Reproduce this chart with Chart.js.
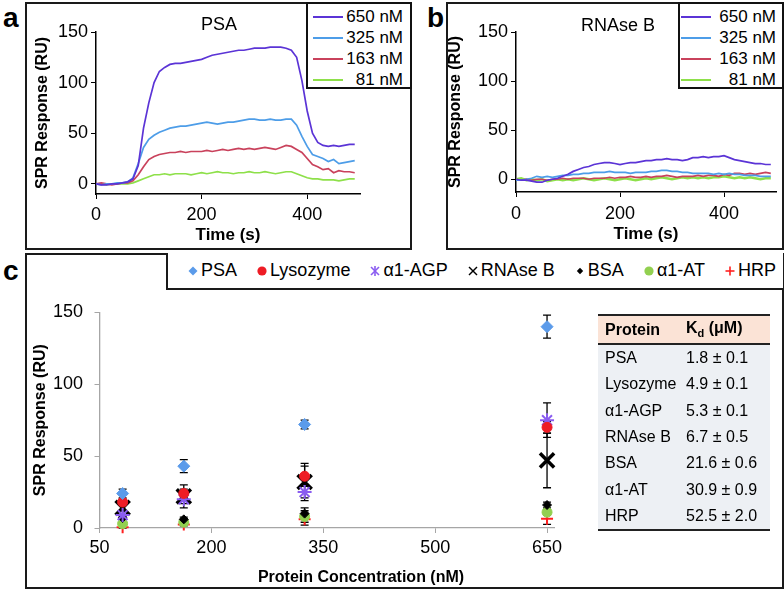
<!DOCTYPE html>
<html><head><meta charset="utf-8">
<script src="https://cdn.jsdelivr.net/npm/chart.js@4.4.1/dist/chart.umd.min.js"></script>
<style>
body{margin:0;background:#fff;}
#fig{position:relative;width:784px;height:591px;overflow:hidden;font-family:'Liberation Sans',Arial,sans-serif;color:#000;background:#fff;}
.box{position:absolute;border:2px solid #1a1a1a;box-sizing:border-box;}
.plabel{position:absolute;font-weight:bold;font-size:28px;line-height:28px;}
canvas{position:absolute;}
.ptitle{position:absolute;font-size:18px;line-height:18px;transform:translate(-50%,-50%);white-space:nowrap;}
.lgd{position:absolute;border:2px solid #111;background:#fff;box-sizing:border-box;font-size:17px;}
.lgd .row{display:flex;align-items:center;height:21px;}
.lgd .smp{width:30px;height:0;border-top:2px solid;}
.lgd .txt{flex:1;text-align:right;}
#lgdc{position:absolute;left:166px;top:253px;width:617px;height:37px;border-left:2px solid #1a1a1a;border-bottom:2px solid #1a1a1a;box-sizing:border-box;display:flex;align-items:center;padding-left:20px;gap:20px;font-size:18px;background:#fff;}
#lgdc .it{display:flex;align-items:center;gap:3px;white-space:nowrap;}
#xtitleC{position:absolute;left:361px;top:577px;transform:translate(-50%,-50%);font-weight:bold;font-size:16px;white-space:nowrap;}
#kd{position:absolute;left:598px;top:314px;width:172px;border-collapse:collapse;font-size:16px;}
#kd th{background:#fbe3d6;height:27px;text-align:left;font-weight:bold;border-top:2px solid #222;border-bottom:2px solid #222;padding:0;}
#kd td{background:#edf0f4;height:26.3px;padding:0;}
#kd .c1{padding-left:7px;width:81px;}
#kd tr:last-child td{border-bottom:2px solid #222;}
</style></head>
<body>
<div id="fig">
  <div class="box" style="left:25px;top:2px;width:387px;height:248px;"></div>
  <div class="box" style="left:446px;top:2px;width:338px;height:248px;"></div>
  <div class="box" style="left:25px;top:253px;width:759px;height:336px;"></div>
  <div class="plabel" style="left:3px;top:4px;">a</div>
  <div class="plabel" style="left:427px;top:4px;">b</div>
  <div class="plabel" style="left:3px;top:257px;">c</div>
  <canvas id="ca" width="381" height="242" style="left:27px;top:4px;"></canvas>
  <canvas id="cb" width="333" height="242" style="left:448px;top:4px;"></canvas>
  <canvas id="cc" width="754" height="296" style="left:27px;top:290px;"></canvas>
  <div class="ptitle" id="ta" style="left:219px;top:24px;"></div>
  <div class="ptitle" id="tb" style="left:618px;top:25px;"></div>
  <div class="lgd" id="lga" style="left:306px;top:2px;width:106px;height:87px;padding:2px 7px 0 5px;"></div>
  <div class="lgd" id="lgb" style="left:678px;top:2px;width:106px;height:87px;padding:2px 6px 0 1px;"></div>
  <div id="lgdc"></div>
  <div id="xtitleC"></div>
  <table id="kd"></table>
</div>
<script>
// ---------- Panels a & b: SPR sensorgrams ----------
const timeSec = [0,10,20,30,40,50,60,70,80,90,100,110,120,130,140,150,160,170,180,190,200,210,220,230,240,250,260,270,280,290,300,310,320,330,340,350,360,370,380,390,400,410,420,430,440,450,460,470,480,490];
const concLabels = ['650 nM','325 nM','163 nM','81 nM'];
const psa650 = [0,-1,-1,0,0,1,2,5,18,55,80,100,111,115,118,119,119,120,121,122,123,125,127,128,129,130,131,132,132,133,134,134,134,135,135,135,134,132,125,102,72,50,41,38,37,38,37,38,39,39];
const psa325 = [0,-1,0,0,1,1,2,6,20,36,44,48,51,53,55,56,57,57,58,59,60,61,60,59,60,61,61,62,63,64,64,63,63,64,63,63,64,64,58,47,37,29,27,25,22,24,20,21,22,23];
const psa163 = [0,1,0,-1,0,1,1,3,9,17,24,27,29,30,31,31,32,31,32,32,32,33,32,33,34,33,34,35,34,35,34,35,36,35,34,36,38,37,34,31,25,19,17,14,15,11,13,12,12,11];
const psa81  = [0,0,-1,0,0,0,0,1,3,5,7,9,9,10,9,10,10,10,9,10,11,10,11,12,11,11,10,11,11,12,11,11,12,11,10,11,12,12,10,8,6,5,5,4,4,4,3,4,5,5];
const rnb650 = [0,-1,-1,-2,-3,-3,-1,0,1,3,5,8,10,12,13,15,16,17,17,16,15,16,17,17,18,19,19,20,20,21,20,20,19,20,22,22,23,22,23,23,24,22,20,19,18,17,16,16,15,15];
const rnb325 = [-1,-1,0,1,3,2,3,2,3,4,4,5,5,6,6,7,7,7,8,7,7,7,6,7,7,7,8,8,9,9,8,8,7,7,6,6,6,6,5,6,5,6,5,5,4,4,4,3,3,3];
const rnb163 = [0,-1,0,-1,0,0,-1,0,0,1,0,1,1,1,0,1,1,1,2,1,2,2,3,2,2,3,2,3,3,4,3,2,3,3,3,4,3,4,4,3,5,4,6,6,5,6,5,6,7,6];
const rnb81  = [0,1,-1,0,-1,0,-2,-1,0,-1,0,-1,0,1,0,-1,0,1,0,-1,0,1,0,-1,0,1,0,1,2,1,0,1,2,1,2,1,2,1,2,2,3,2,1,2,1,2,1,0,1,1];
const timeTicks = [0,200,400];
const respTicks = [0,50,100,150];

// ---------- Panel c: response vs concentration ----------
const concNM = [81,163,325,650];
const proteinNames = ['PSA','Lysozyme','α1-AGP','RNAse B','BSA','α1-AT','HRP'];
const respPSA  = [24,43,72,140];
const respLys  = [18,24,36,70];
const respAGP  = [9,20,25,75];
const respRNB  = [14,22,32,47];
const respBSA  = [7,6,10,16];
const respAT   = [3,4,8,11];
const respHRP  = [0.5,2.5,6,6.5];
const errPSA = [3,4.5,3,8];
const errLys = [2,3,7,4];
const errAGP = [3,3,4,12];
const errRNB = [5,8,13,19];
const errBSA = [1,1.5,2,2];
const errAT  = [1,1,6,2];
const errHRP = [1,1,2,4];
const concTicks = [50,200,350,500,650];

// ---------- Table ----------
const kdProteins = ['PSA','Lysozyme','α1-AGP','RNAse B','BSA','α1-AT','HRP'];
const kdValues = ['1.8 ± 0.1','4.9 ± 0.1','5.3 ± 0.1','6.7 ± 0.5','21.6 ± 0.6','30.9 ± 0.9','52.5 ± 2.0'];

// ---------- styles ----------
const lineColors = ['#5b34d6','#4d9de8','#c9425c','#8ee04a'];
const FONT = "'Liberation Sans', Arial, sans-serif";
Chart.defaults.font.family = FONT;
Chart.defaults.color = '#000';

function sensorChart(id, title, series, yMin, opts){
  const ds = series.map((vals,k)=>({
    label: concLabels[k],
    data: timeSec.map((t,i)=>({x:t,y:vals[i]})),
    borderColor: lineColors[k],
    borderWidth: k===3 && opts.thickGreen ? 2.4 : 1.7,
    pointRadius: 0, tension: 0, fill:false
  }));
  new Chart(document.getElementById(id), {
    type:'line',
    data:{datasets:ds},
    options:{
      responsive:false, animation:false,
      layout:{padding:{top:28,right:opts.padRight,left:0,bottom:0}},
      plugins:{legend:{display:false},tooltip:{enabled:false}},
      scales:{
        x:{type:'linear',min:0,max:500,
          afterBuildTicks:s=>{s.ticks=timeTicks.map(v=>({value:v}));},
          afterFit:s=>{s.height=opts.xh;},
          grid:{drawOnChartArea:false,drawTicks:true,tickLength:5,color:'#000'},
          border:{display:true,color:'#000',width:1.5},
          ticks:{font:{size:18},padding:opts.xpad,maxRotation:0,autoSkip:false},
          title:{display:true,text:'Time (s)',font:{size:17,weight:'bold',lineHeight:1},padding:{top:0,bottom:opts.xtb}}
        },
        y:{min:yMin,max:150,
          afterBuildTicks:s=>{s.ticks=respTicks.map(v=>({value:v}));},
          afterFit:s=>{s.width=opts.yw;},
          grid:{drawOnChartArea:false,drawTicks:true,tickLength:5,color:'#000'},
          border:{display:true,color:'#000',width:1.5},
          ticks:{font:{size:18},padding:3,autoSkip:false},
          title:{display:true,text:'SPR Response (RU)',font:{size:16,weight:'bold',lineHeight:1},padding:{top:opts.ytp,bottom:0}}
        }
      }
    }
  });
  document.getElementById(opts.titleId).textContent = title;
  const lg = document.getElementById(opts.legendId);
  concLabels.forEach((lab,k)=>{
    const r = document.createElement('div'); r.className='row';
    r.innerHTML = '<div class="smp" style="border-color:'+lineColors[k]+'"></div><div class="txt">'+lab+'</div>';
    lg.appendChild(r);
  });
}
sensorChart('ca','PSA',[psa650,psa325,psa163,psa81],-10,
  {padRight:48,xh:52,xpad:5,xtb:2,yw:69,ytp:8,titleId:'ta',legendId:'lga'});
sensorChart('cb','RNAse B',[rnb650,rnb325,rnb163,rnb81],-13,
  {padRight:5,xh:54,xpad:6,xtb:3,yw:68,ytp:0,titleId:'tb',legendId:'lgb',thickGreen:true});

// ---------- panel c chart ----------
const respSeries = [respPSA,respLys,respAGP,respRNB,respBSA,respAT,respHRP];
const errSeries = [errPSA,errLys,errAGP,errRNB,errBSA,errAT,errHRP];
const markerStyles = [
  {pointStyle:'rectRot',radius:6,color:'#5b9bea',bw:1},
  {pointStyle:'circle',radius:5,color:'#ee1c25',bw:1},
  {pointStyle:'star',radius:7,color:'#8a5cf0',bw:2},
  {pointStyle:'crossRot',radius:10,color:'#000000',bw:3.5},
  {pointStyle:'rectRot',radius:4.5,color:'#000000',bw:1},
  {pointStyle:'circle',radius:5,color:'#92d050',bw:1},
  {pointStyle:'cross',radius:6,color:'#ff2020',bw:2}
];
const errorBars = {
  id:'errorBars',
  beforeDatasetsDraw(chart){
    const {ctx, scales:{x,y}} = chart;
    ctx.save(); ctx.strokeStyle='#000'; ctx.lineWidth=1.3;
    chart.data.datasets.forEach(ds=>{
      ds.data.forEach((p,i)=>{
        const e = ds.errors[i];
        const px = x.getPixelForValue(p.x);
        const t = y.getPixelForValue(p.y+e), b = y.getPixelForValue(Math.max(0,p.y-e));
        ctx.beginPath();
        ctx.moveTo(px,t); ctx.lineTo(px,b);
        ctx.moveTo(px-4,t); ctx.lineTo(px+4,t);
        ctx.moveTo(px-4,b); ctx.lineTo(px+4,b);
        ctx.stroke();
      });
    });
    ctx.restore();
  }
};
new Chart(document.getElementById('cc'), {
  type:'scatter',
  data:{datasets: respSeries.map((vals,k)=>({
    label: proteinNames[k],
    data: concNM.map((c,i)=>({x:c,y:vals[i]})),
    errors: errSeries[k],
    pointStyle: markerStyles[k].pointStyle,
    pointRadius: markerStyles[k].radius,
    backgroundColor: markerStyles[k].color,
    borderColor: markerStyles[k].color,
    borderWidth: markerStyles[k].bw,
    showLine:false, clip:false
  }))},
  options:{
    responsive:false, animation:false,
    layout:{padding:{top:7.5,right:226.5,left:0,bottom:0}},
    plugins:{legend:{display:false},tooltip:{enabled:false}},
    scales:{
      x:{type:'linear',min:50,max:660,
        afterBuildTicks:s=>{s.ticks=concTicks.map(v=>({value:v}));},
        afterFit:s=>{s.height=58;},
        grid:{drawOnChartArea:false,drawTicks:true,tickLength:5,color:'#a6a6a6'},
        border:{display:true,color:'#a6a6a6',width:1.3},
        ticks:{font:{size:18},padding:4,maxRotation:0,autoSkip:false}
      },
      y:{min:0,max:150,
        afterBuildTicks:s=>{s.ticks=respTicks.map(v=>({value:v}));},
        afterFit:s=>{s.width=72.5;},
        grid:{drawOnChartArea:false,drawTicks:true,tickLength:5,color:'#a6a6a6'},
        border:{display:true,color:'#a6a6a6',width:1.3},
        ticks:{font:{size:18},padding:11.5,autoSkip:false},
        title:{display:true,text:'SPR Response (RU)',font:{size:16,weight:'bold',lineHeight:1},padding:{top:6,bottom:0}}
      }
    }
  },
  plugins:[errorBars]
});
document.getElementById('xtitleC').textContent = 'Protein Concentration (nM)';

// legend c
const svgMarks = [
  '<polygon points="5,0.5 9.5,5 5,9.5 0.5,5" fill="#5b9bea"/>',
  '<circle cx="5" cy="5" r="4.6" fill="#ee1c25"/>',
  '<g stroke="#8a5cf0" stroke-width="1.6"><line x1="5" y1="0" x2="5" y2="10"/><line x1="1" y1="1" x2="9" y2="9"/><line x1="9" y1="1" x2="1" y2="9"/></g>',
  '<g stroke="#000" stroke-width="1.4"><line x1="1" y1="1" x2="9" y2="9"/><line x1="9" y1="1" x2="1" y2="9"/></g>',
  '<polygon points="5,1.8 8.2,5 5,8.2 1.8,5" fill="#000"/>',
  '<circle cx="5" cy="5" r="4.6" fill="#92d050"/>',
  '<g stroke="#ff2020" stroke-width="1.6"><line x1="5" y1="0.5" x2="5" y2="9.5"/><line x1="0.5" y1="5" x2="9.5" y2="5"/></g>'
];
const lgc = document.getElementById('lgdc');
proteinNames.forEach((n,k)=>{
  const it = document.createElement('div'); it.className='it';
  it.innerHTML = '<svg width="10" height="10" viewBox="0 0 10 10">'+svgMarks[k]+'</svg><span>'+n+'</span>';
  lgc.appendChild(it);
});

// table
const tbl = document.getElementById('kd');
let h = '<tr><th class="c1">Protein</th><th>K<sub style="font-size:11px">d</sub> (μM)</th></tr>';
kdProteins.forEach((p,i)=>{ h += '<tr><td class="c1">'+p+'</td><td>'+kdValues[i]+'</td></tr>'; });
tbl.innerHTML = h;
</script>
</body></html>
